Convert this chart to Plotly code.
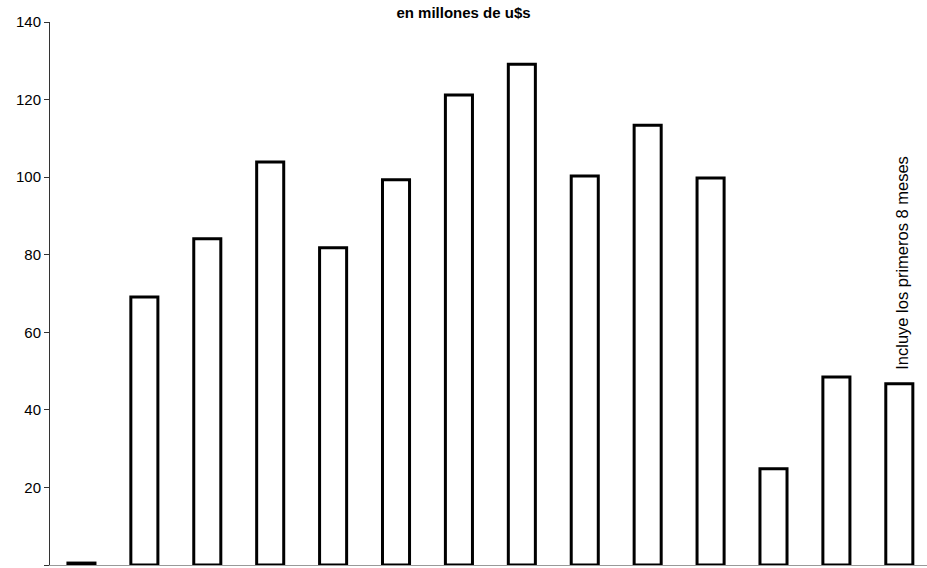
import plotly.graph_objects as go

categories = ["1993", "1994", "1995", "1996", "1997", "1998", "1999",
              "2000", "2001", "2002", "2003", "2004", "2005", "2006"]
values = [0.5, 69.1, 84.1, 103.9, 81.8, 99.3, 121.2, 129.1, 100.3, 113.4, 99.8, 24.8, 48.5, 46.7]
y_ticks = [0, 20, 40, 60, 80, 100, 120, 140]
title_text = "en millones de u$s"
note_text = "Incluye los primeros 8 meses"

fig = go.Figure()
fig.add_trace(go.Bar(
    x=categories, y=values, width=0.43,
    marker=dict(color="white", line=dict(color="black", width=3)),
    hoverinfo="x+y",
))

fig.add_annotation(
    x=len(categories) - 1, y=78, text=note_text, textangle=-90,
    showarrow=False, xshift=3,
    font=dict(family="Liberation Sans, Arial", size=16.5, color="black"),
)

fig.update_layout(
    width=927, height=568,
    margin=dict(l=50, r=0, t=22, b=3),
    paper_bgcolor="white", plot_bgcolor="white",
    showlegend=False,
    title=dict(text="<b>" + title_text + "</b>", x=0.5, xanchor="center",
               y=0.977, yanchor="middle",
               font=dict(family="Liberation Sans, Arial", size=15, color="black")),
)
fig.update_xaxes(
    type="category", showticklabels=False, showgrid=False,
    showline=True, linecolor="#999999", linewidth=1,
    ticks="", range=[-0.5, 13.44],
)
fig.update_yaxes(
    range=[0, 140], tickvals=y_ticks, showgrid=False, zeroline=False,
    showline=True, linecolor="#333333", linewidth=1,
    ticks="outside", ticklen=5, tickcolor="#333333",
    tickfont=dict(family="Liberation Sans, Arial", size=15, color="black"),
)

fig.write_html("out.html", config={"displayModeBar": False},
               post_script="document.body.style.margin='0';")
